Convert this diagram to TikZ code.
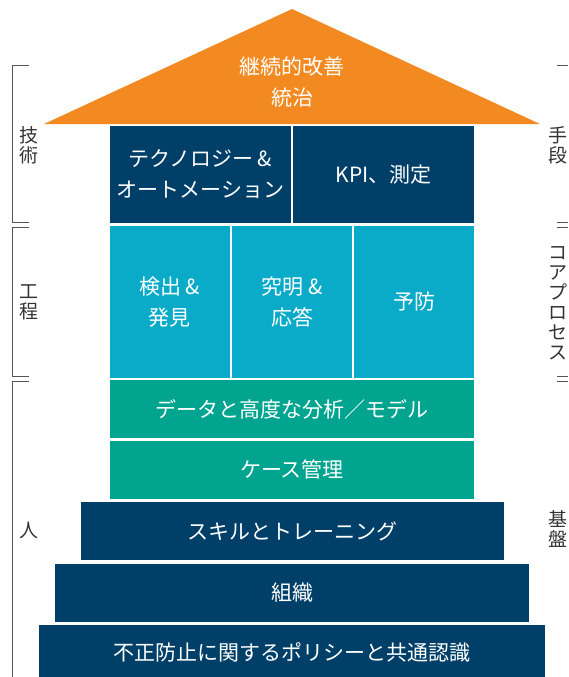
\documentclass[tikz,border=0pt]{standalone}
\usepackage{fontspec}
\setmainfont{Noto Sans CJK JP}
\usepackage{xcolor}
\usepackage{tikz}
\usetikzlibrary{positioning}
\definecolor{rooforange}{HTML}{F28A21}
\definecolor{navyblue}{HTML}{004068}
\definecolor{cyanblue}{HTML}{0AABC8}
\definecolor{tealgreen}{HTML}{00A48F}
\definecolor{bracketgray}{HTML}{555555}
\tikzset{
  block/.style={rectangle, inner sep=0pt, align=center, text=white, font=\fontsize{21}{31}\selectfont},
  navyblock/.style={block, fill=navyblue},
  cyanblock/.style={block, fill=cyanblue, minimum width=120pt, minimum height=152pt},
  tealblock/.style={block, fill=tealgreen, minimum width=364pt, minimum height=58pt},
  sidelabel/.style={align=center, inner sep=0pt, text=black!80, font=\fontsize{19}{20}\selectfont},
  bracket/.style={draw=bracketgray, line width=1pt}
}

\begin{document}
\begin{tikzpicture}[x=1pt, y=-1pt]
  \useasboundingbox (0,0) rectangle (568,677);
  \fill[rooforange] (44,124) -- (292,9) -- (540,124) -- cycle;
  \node[block] (roof) at (292,82) {継続的改善\\統治};
  \node[cyanblock] (respond) at (292,302) {究明 \&\\応答};
  \node[cyanblock, left=2pt of respond] (detect) {検出 \&\\発見};
  \node[cyanblock, right=2pt of respond] (prevent) {予防};
  \node[navyblock, minimum width=181pt, minimum height=97pt, above=3pt of respond.north, anchor=south east, xshift=-1pt] (tech) {テクノロジー \&\\オートメーション};
  \node[navyblock, minimum width=181pt, minimum height=97pt, right=2pt of tech] (kpi) {KPI、測定};
  \node[tealblock, below=2pt of respond] (data) {データと高度な分析／モデル};
  \node[tealblock, below=2pt of data] (casemgmt) {ケース管理};
  \node[navyblock, minimum width=423pt, minimum height=58pt, below=3pt of casemgmt] (skills) {スキルとトレーニング};
  \node[navyblock, minimum width=474pt, minimum height=58pt, below=3pt of skills] (org) {組織};
  \node[navyblock, minimum width=506pt, minimum height=54pt, below=3pt of org] (policy) {不正防止に関するポリシーと共通認識};
  \draw[bracket] (29,66) -| (12,222) -- (29,222);
  \draw[bracket] (29,227) -| (12,376) -- (29,376);
  \draw[bracket] (29,381) -| (12,677);
  \draw[bracket] (557,66) -- (568,66);
  \draw[bracket] (557,222) -- (568,222);
  \draw[bracket] (557,227) -- (568,227);
  \draw[bracket] (557,376) -- (568,376);
  \draw[bracket] (557,381) -- (568,381);
  \node[sidelabel] (techlabel) at (29,145) {技\\術};
  \node[sidelabel] (proclabel) at (29,302) {工\\程};
  \node[sidelabel] (peoplelabel) at (29,530) {人};
  \node[sidelabel] (meanslabel) at (558,145) {手\\段};
  \node[sidelabel] (corelabel) at (558,303) {コ\\ア\\プ\\ロ\\セ\\ス};
  \node[sidelabel] (baselabel) at (558,529) {基\\盤};
\end{tikzpicture}
\end{document}
